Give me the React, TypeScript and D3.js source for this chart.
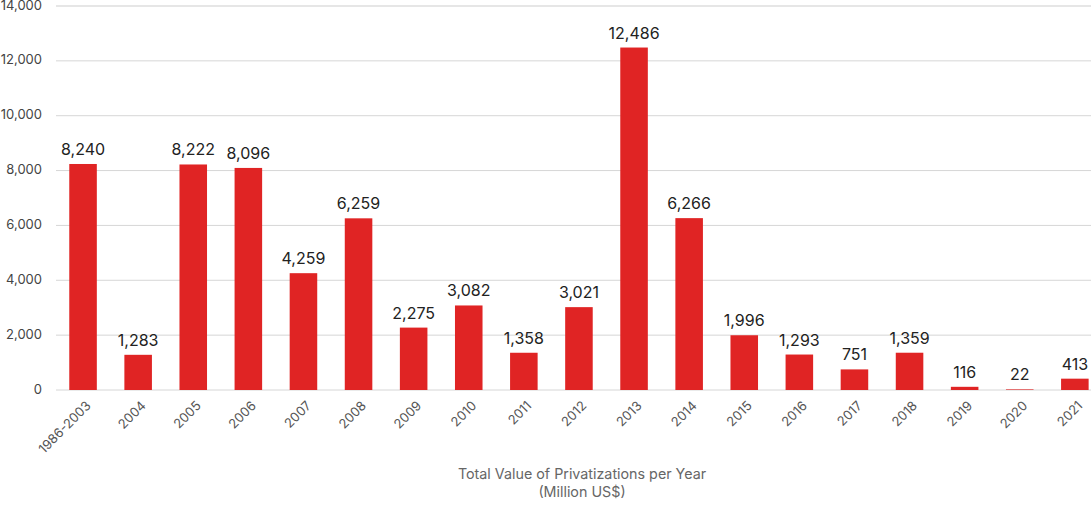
import { useEffect, useRef } from 'react';
import * as d3 from 'd3';

const categories = ['1986-2003', '2004', '2005', '2006', '2007', '2008', '2009', '2010', '2011', '2012', '2013', '2014', '2015', '2016', '2017', '2018', '2019', '2020', '2021'];
const values = [8240, 1283, 8222, 8096, 4259, 6259, 2275, 3082, 1358, 3021, 12486, 6266, 1996, 1293, 751, 1359, 116, 22, 413];
const yTicks = [0, 2000, 4000, 6000, 8000, 10000, 12000, 14000];
const titleLines = ['Total Value of Privatizations per Year', '(Million US$)'];

export default function App() {
  const svgRef = useRef<SVGSVGElement>(null);

  useEffect(() => {
    if (!svgRef.current) return;
    const svg = d3.select(svgRef.current);
    svg.selectAll('*').remove();

    const width = 1091;
    const left = 55.5;
    const step = 55.1;
    const fmt = d3.format(',');

    const x = d3.scaleBand<string>()
      .domain(categories)
      .range([left, left + step * categories.length])
      .paddingInner(0.5)
      .paddingOuter(0.25);
    const y = d3.scaleLinear().domain([0, 14000]).range([390, 6]);

    const font = 'Inter, "Noto Sans", sans-serif';

    // gridlines + y labels
    const grid = svg.append('g');
    yTicks.forEach(t => {
      grid.append('line')
        .attr('x1', 56).attr('x2', width)
        .attr('y1', y(t)).attr('y2', y(t))
        .attr('stroke', t === 14000 ? '#e6e6e6' : '#d6d6d6')
        .attr('stroke-width', t === 14000 ? 2 : 1);
      grid.append('text')
        .attr('x', 42).attr('y', y(t))
        .attr('text-anchor', 'end').attr('dominant-baseline', 'middle')
        .attr('font-family', font).attr('font-size', 13).attr('fill', '#444')
        .text(fmt(t));
    });

    // bars
    svg.append('g').selectAll('rect')
      .data(values)
      .join('rect')
      .attr('x', (_, i) => x(categories[i])!)
      .attr('width', x.bandwidth())
      .attr('y', d => y(d))
      .attr('height', d => y(0) - y(d))
      .attr('fill', '#e02424');

    // value labels
    svg.append('g').selectAll('text')
      .data(values)
      .join('text')
      .attr('x', (_, i) => x(categories[i])! + x.bandwidth() / 2)
      .attr('y', d => y(d) - 9)
      .attr('text-anchor', 'middle')
      .attr('font-family', font).attr('font-size', 16).attr('fill', '#222')
      .text(d => fmt(d));

    // x labels
    svg.append('g').selectAll('text')
      .data(categories)
      .join('text')
      .attr('transform', d => `translate(${x(d)! + x.bandwidth() / 2 + 6},${404}) rotate(-45)`)
      .attr('text-anchor', 'end')
      .attr('dominant-baseline', 'middle')
      .attr('font-family', font).attr('font-size', 13).attr('fill', '#555')
      .text(d => d);

    // axis title
    svg.append('g').selectAll('text')
      .data(titleLines)
      .join('text')
      .attr('x', 582).attr('y', (_, i) => 479 + i * 18)
      .attr('text-anchor', 'middle')
      .attr('font-family', font).attr('font-size', 14.3).attr('fill', '#666')
      .text(d => d);
  }, []);

  return (
    <svg
      ref={svgRef}
      width={1091}
      height={506}
      style={{ position: 'absolute', left: 0, top: 0, background: '#fff' }}
    />
  );
}
